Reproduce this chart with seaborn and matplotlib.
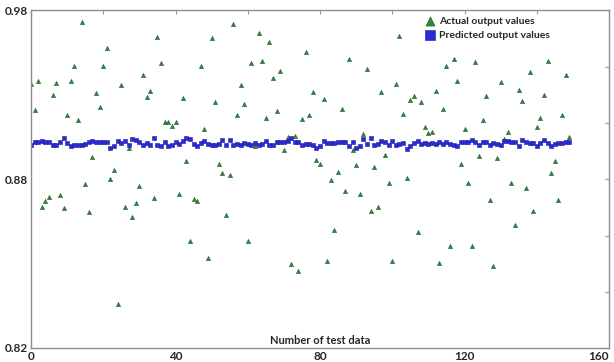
import numpy as np
import pandas as pd
import matplotlib
matplotlib.use("Agg")
import matplotlib.pyplot as plt
import seaborn as sns

# values
test_index = list(range(150))

actual_values = [
    0.9452, 0.9328, 0.9464, 0.8868, 0.8898, 0.8915, 0.9399, 0.9455, 0.8923, 0.8863,
    0.9302, 0.9466, 0.9537, 0.9279, 0.9744, 0.8978, 0.8845, 0.9103, 0.9409, 0.9344,
    0.9535, 0.9622, 0.9002, 0.9044, 0.8408, 0.9447, 0.8866, 0.9148, 0.8823, 0.8885,
    0.8969, 0.9493, 0.9388, 0.9417, 0.8909, 0.9673, 0.9549, 0.9270, 0.9273, 0.9251,
    0.9270, 0.8932, 0.9387, 0.9088, 0.8708, 0.8907, 0.8898, 0.9535, 0.9237, 0.8626,
    0.9671, 0.9365, 0.9071, 0.9028, 0.8828, 0.9019, 0.9736, 0.9302, 0.9447, 0.9358,
    0.8708, 0.9549, 0.9158, 0.9691, 0.9559, 0.9291, 0.9650, 0.9478, 0.9322, 0.9511,
    0.9139, 0.9202, 0.8599, 0.9204, 0.8563, 0.9287, 0.9605, 0.9302, 0.9414, 0.9093,
    0.9073, 0.9380, 0.8610, 0.8998, 0.8759, 0.9033, 0.9332, 0.8946, 0.9568, 0.9139,
    0.9066, 0.8932, 0.9216, 0.9523, 0.8847, 0.9057, 0.8869, 0.9415, 0.9114, 0.8980,
    0.8610, 0.9450, 0.9677, 0.9309, 0.9005, 0.9374, 0.9393, 0.8749, 0.9368, 0.9248,
    0.9218, 0.9223, 0.9418, 0.8604, 0.9332, 0.9538, 0.8684, 0.9568, 0.9464, 0.9073,
    0.9238, 0.8983, 0.8684, 0.9557, 0.9112, 0.9279, 0.9395, 0.8902, 0.8587, 0.9100,
    0.9461, 0.9191, 0.9226, 0.8981, 0.8781, 0.9422, 0.9369, 0.8957, 0.9508, 0.8850,
    0.9248, 0.9292, 0.9398, 0.9560, 0.9030, 0.9088, 0.8901, 0.9305, 0.9493, 0.9199,
]

predicted_values = [
    0.9161, 0.9177, 0.9178, 0.9182, 0.9174, 0.9177, 0.9163, 0.9161, 0.9177, 0.9193,
    0.9172, 0.9156, 0.9163, 0.9164, 0.9164, 0.9166, 0.9177, 0.9180, 0.9178, 0.9174,
    0.9174, 0.9175, 0.9150, 0.9155, 0.9180, 0.9171, 0.9182, 0.9163, 0.9190, 0.9188,
    0.9178, 0.9163, 0.9171, 0.9164, 0.9194, 0.9163, 0.9158, 0.9177, 0.9155, 0.9164,
    0.9175, 0.9166, 0.9180, 0.9194, 0.9191, 0.9169, 0.9158, 0.9171, 0.9182, 0.9169,
    0.9163, 0.9161, 0.9167, 0.9188, 0.9164, 0.9186, 0.9163, 0.9169, 0.9161, 0.9172,
    0.9167, 0.9160, 0.9172, 0.9164, 0.9166, 0.9183, 0.9160, 0.9160, 0.9178, 0.9175,
    0.9175, 0.9183, 0.9194, 0.9178, 0.9177, 0.9164, 0.9169, 0.9169, 0.9163, 0.9147,
    0.9156, 0.9182, 0.9171, 0.9172, 0.9172, 0.9178, 0.9174, 0.9178, 0.9156, 0.9174,
    0.9147, 0.9155, 0.9190, 0.9166, 0.9193, 0.9164, 0.9169, 0.9180, 0.9177, 0.9161,
    0.9182, 0.9160, 0.9167, 0.9171, 0.9145, 0.9158, 0.9172, 0.9180, 0.9166, 0.9172,
    0.9167, 0.9172, 0.9166, 0.9174, 0.9169, 0.9177, 0.9166, 0.9163, 0.9158, 0.9174,
    0.9175, 0.9178, 0.9188, 0.9174, 0.9163, 0.9177, 0.9174, 0.9160, 0.9172, 0.9167,
    0.9164, 0.9180, 0.9180, 0.9178, 0.9175, 0.9158, 0.9188, 0.9175, 0.9171, 0.9172,
    0.9158, 0.9172, 0.9186, 0.9171, 0.9155, 0.9169, 0.9172, 0.9172, 0.9174, 0.9175,
]

x_ticks = [0, 20, 40, 60, 80, 100, 120, 140, 160]
x_tick_labels = ["0", "", "40", "", "80", "", "120", "", "160"]
y_ticks = [0.82, 0.8467, 0.8733, 0.90, 0.9267, 0.9533, 0.98]
y_tick_labels = ["0.82", "", "", "0.88", "", "", "0.98"]

actual = pd.DataFrame({"test": test_index, "value": actual_values})
predicted = pd.DataFrame({"test": test_index, "value": predicted_values})

sns.set_style("white")
plt.rcParams["font.family"] = ["Lato", "DejaVu Sans"]
plt.rcParams["font.weight"] = "bold"

fig = plt.figure(figsize=(6.14, 3.62), dpi=100)
ax = fig.add_axes([0.0505, 0.0387, 0.9414, 0.9326])

sns.scatterplot(data=actual, x="test", y="value", ax=ax, marker="^", s=9,
                color="#2e8b3a", edgecolor="#1d5a22", linewidth=0.4,
                label="Actual output values")
sns.scatterplot(data=predicted, x="test", y="value", ax=ax, marker="s", s=10,
                color="#2a2ad6", edgecolor="#1a1aa0", linewidth=0.4,
                label="Predicted output values")

ax.set_xlim(0, 160)
ax.set_ylim(0.82, 0.98)
ax.set_xticks(x_ticks)
ax.set_xticklabels(x_tick_labels, fontsize=8.5, fontweight="bold")
ax.get_xticklabels()[-1].set_ha("right")
ax.set_yticks(y_ticks)
ax.set_yticklabels(y_tick_labels, fontsize=8.5, fontweight="bold")
ax.tick_params(direction="in", length=3, width=0.8, color="#999999",
               top=True, right=True, pad=2)

ax.set_xlabel("Number of test data", fontsize=8, fontweight="bold")
ax.xaxis.set_label_coords(0.5, 0.005)
ax.xaxis.label.set_va("bottom")
ax.set_ylabel("")

for sp in ax.spines.values():
    sp.set_color("#8c8c8c")
    sp.set_linewidth(1.0)

leg = ax.legend(loc="upper left", bbox_to_anchor=(0.668, 1.0), frameon=False,
                markerscale=2.2, fontsize=7.5, handletextpad=0.3, handlelength=1.2,
                labelspacing=0.45, borderaxespad=0.2)
for t in leg.get_texts():
    t.set_fontweight("bold")

fig.savefig("out.png", dpi=100)
